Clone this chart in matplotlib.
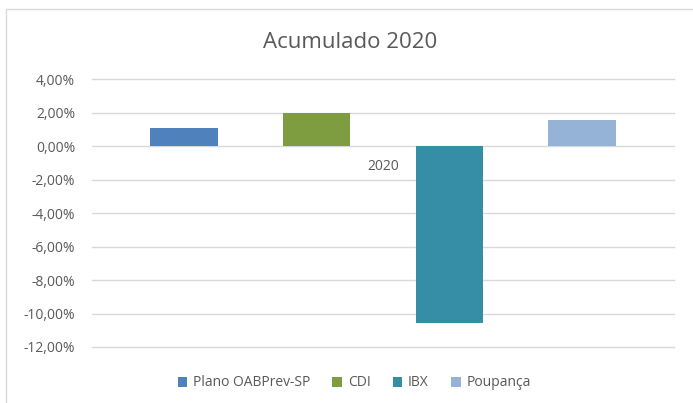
import matplotlib
matplotlib.use("Agg")
import matplotlib.pyplot as plt
from matplotlib.patches import Rectangle, Patch
from matplotlib.ticker import FuncFormatter

# data
series = ["Plano OABPrev-SP", "CDI", "IBX", "Poupança"]
values = [1.08, 1.98, -10.54, 1.56]
colors = ["#4F81BD", "#7E9C40", "#368DA6", "#95B3D7"]
category = "2020"
yticks = [4, 2, 0, -2, -4, -6, -8, -10, -12]

plt.rcParams["font.family"] = ["Open Sans", "DejaVu Sans"]
text_color = "#595959"

fig = plt.figure(figsize=(6.93, 4.03), dpi=100)
ax = fig.add_axes([92 / 693, 1 - 347 / 403, 582 / 693, 268 / 403])

xs = list(range(len(series)))
ax.bar(xs, values, width=0.51, color=colors, zorder=3)

ax.set_xlim(-0.69, 3.69)
ax.set_ylim(-12, 4)
ax.set_yticks(yticks)
ax.yaxis.set_major_formatter(FuncFormatter(lambda v, p: f"{v:.2f}%".replace(".", ",")))
ax.grid(axis="y", color="#D9D9D9", linewidth=1, zorder=0)
for gl in ax.get_ygridlines():
    gl.set_clip_on(False)
ax.tick_params(axis="y", length=0, pad=12, labelsize=10, labelcolor=text_color)

# category label sits at the zero line
ax.spines["bottom"].set_position(("data", 0))
ax.set_xticks([1.5])
ax.set_xticklabels([category])
ax.tick_params(axis="x", length=0, pad=9, labelsize=10, labelcolor=text_color)
for s in ax.spines.values():
    s.set_visible(False)

fig.text(0.505, 1 - 43 / 403, "Acumulado 2020", ha="center", va="center",
         fontsize=16, color=text_color)

handles = [Patch(facecolor=c, label=n) for c, n in zip(colors, series)]
fig.legend(handles=handles, loc="center", bbox_to_anchor=(0.511, 1 - 383 / 403),
           ncol=4, frameon=False, fontsize=10, handlelength=0.7, handleheight=0.7,
           handletextpad=0.4, columnspacing=1.6, labelcolor=text_color)

fig.patches.append(Rectangle((6 / 693, -0.05), 1.0, 1 - 9 / 403 + 0.05, fill=False,
                             edgecolor="#D9D9D9", linewidth=1, transform=fig.transFigure))

fig.savefig("out.png", dpi=100)
